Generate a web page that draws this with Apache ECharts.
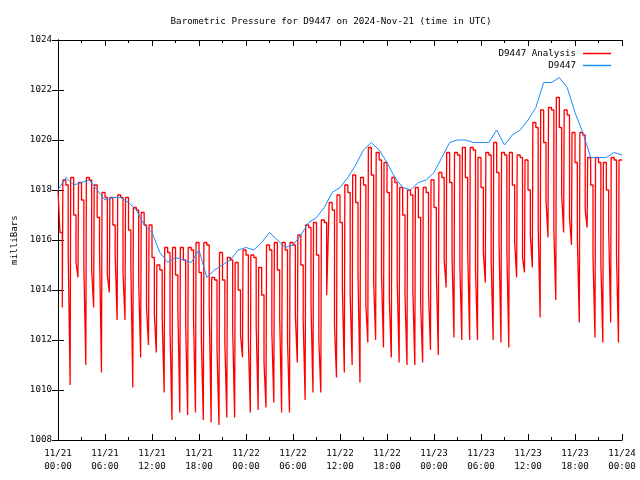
<!DOCTYPE html>
<html><head><meta charset="utf-8">
<script src="https://cdn.jsdelivr.net/npm/echarts@6/dist/echarts.min.js"></script>
<style>html,body{margin:0;padding:0;background:#fff}#c{width:640px;height:480px}</style>
</head><body><div id="c"></div>
<script>
const chartTitle = 'Barometric Pressure for D9447 on 2024-Nov-21 (time in UTC)';
const yAxisName = 'milliBars';
const seriesNames = ['D9447 Analysis', 'D9447'];
const xTickLabels = ['11/21\n00:00','11/21\n06:00','11/21\n12:00','11/21\n18:00','11/22\n00:00','11/22\n06:00','11/22\n12:00','11/22\n18:00','11/23\n00:00','11/23\n06:00','11/23\n12:00','11/23\n18:00','11/24\n00:00'];

// D9447 (blue) hourly readings, hours 0..72 after 11/21 00:00
const blueHours = [0,1,2,3,4,5,6,7,8,9,10,11,12,13,14,15,16,17,18,19,20,21,22,23,24,25,26,27,28,29,30,31,32,33,34,35,36,37,38,39,40,41,42,43,44,45,46,47,48,49,50,51,52,53,54,55,56,57,58,59,60,61,62,63,64,65,66,67,68,69,70,71,72];
const blueValues = [
1018.0,1018.5,1018.2,1018.3,1018.4,1018.0,1017.6,1017.7,1017.7,1017.5,
1017.2,1016.6,1016.3,1015.5,1015.1,1015.3,1015.2,1015.1,1015.6,1014.5,
1014.8,1015.0,1015.2,1015.6,1015.7,1015.6,1015.9,1016.3,1016.0,1015.7,
1015.8,1016.2,1016.7,1016.9,1017.3,1017.9,1018.1,1018.5,1019.0,1019.6,
1019.9,1019.6,1019.1,1018.5,1018.1,1018.0,1018.3,1018.4,1018.7,1019.3,
1019.9,1020.0,1020.0,1019.9,1019.9,1019.9,1020.4,1019.8,1020.2,1020.4,
1020.8,1021.3,1022.3,1022.3,1022.5,1022.1,1021.1,1020.3,1019.3,1019.3,
1019.3,1019.5,1019.4];

// D9447 Analysis (red): readings at 0:00 and 0:15 before the first cycle
const redStart = [1018.0, 1016.3];
// reading times within each hourly cycle (hours after the cycle's hour n)
const redCycleOffsets = [0.55, 0.62, 1.0, 1.3];
// per hour n: low, high, next, before-drop readings
const redLow = [
1013.3,1010.2,1014.5,1011.0,1013.3,1010.7,1013.9,1012.8,1012.8,1010.1,
1011.3,1011.8,1011.5,1009.9,1008.8,1009.1,1009.0,1009.1,1008.8,1008.7,
1008.6,1008.9,1008.9,1011.3,1009.1,1009.2,1009.3,1009.5,1009.1,1009.1,
1011.1,1009.6,1009.9,1009.9,1013.8,1010.5,1010.7,1011.0,1010.3,1011.9,
1012.0,1011.7,1011.3,1011.1,1011.0,1011.0,1011.1,1011.6,1011.4,1014.1,
1012.1,1012.0,1012.0,1012.0,1014.3,1012.0,1011.9,1011.7,1014.5,1014.7,
1014.9,1012.9,1016.1,1013.6,1016.3,1015.8,1012.7,1016.5,1012.1,1011.9,
1012.7,1011.9];
const redHigh = [
1018.4,1018.5,1018.3,1018.5,1018.2,1017.9,1017.7,1017.8,1017.7,1017.3,
1017.1,1016.6,1015.0,1015.7,1015.7,1015.7,1015.7,1015.9,1015.9,1014.5,
1015.5,1015.3,1015.1,1015.6,1015.4,1014.9,1015.8,1015.9,1015.9,1015.9,
1016.2,1016.6,1016.7,1016.8,1017.5,1017.8,1018.2,1018.6,1018.5,1019.7,
1019.5,1019.1,1018.5,1018.1,1018.0,1018.1,1018.1,1018.4,1018.7,1019.5,
1019.5,1019.7,1019.7,1019.3,1019.5,1019.9,1019.5,1019.5,1019.4,1019.2,
1020.7,1021.2,1021.3,1021.7,1021.2,1020.3,1020.3,1019.3,1019.3,1019.1,
1019.3,1019.2];
const redMid1 = [
1018.2,1017.0,1017.6,1018.4,1016.9,1017.7,1016.6,1017.7,1016.4,1017.2,
1016.6,1015.3,1014.8,1015.5,1014.6,1015.2,1015.6,1014.7,1015.8,1014.4,
1014.4,1015.2,1014.0,1015.4,1015.3,1013.8,1015.6,1014.8,1015.6,1015.8,
1015.0,1016.5,1015.4,1016.7,1017.2,1016.7,1017.9,1017.5,1018.2,1018.6,
1019.2,1017.9,1018.3,1017.0,1017.8,1016.9,1017.9,1017.3,1018.5,1018.3,
1019.4,1018.5,1019.6,1018.1,1019.4,1018.7,1019.4,1018.2,1019.3,1018.0,
1020.5,1019.9,1021.2,1020.5,1021.0,1019.1,1020.2,1018.2,1019.1,1018.0,
1019.2,1019.2];
const redMid2 = [
1015.5,1015.1,1015.0,1014.8,1015.6,1014.6,1015.4,1014.7,1015.0,1014.3,
1013.3,1013.0,1012.9,1012.4,1013.3,1012.6,1012.9,1012.0,1013.4,1011.6,
1011.9,1012.4,1012.2,1012.0,1012.6,1011.1,1012.3,1012.9,1012.0,1013.0,
1012.8,1013.4,1012.0,1013.8,1012.6,1014.1,1013.8,1014.6,1013.4,1014.3,
1014.6,1013.6,1014.4,1013.8,1014.0,1013.4,1013.9,1014.7,1015.2,1015.4,
1015.0,1015.6,1014.8,1015.5,1015.2,1016.0,1015.6,1015.9,1015.3,1016.2,
1016.5,1017.6,1016.4,1017.8,1016.9,1016.1,1017.2,1015.3,1015.1,1016.4,
1015.4];

const FONT = 'DejaVu Sans Mono';
// readings in time order
const redPts = [[0, redStart[0]], [0.25, redStart[1]]];
for (let n = 0; n < redLow.length; n++) {
  redPts.push([n + redCycleOffsets[0], redLow[n]], [n + redCycleOffsets[1], redHigh[n]],
              [n + redCycleOffsets[2], redMid1[n]]);
  if (n < redMid2.length) redPts.push([n + redCycleOffsets[3], redMid2[n]]);
}
// step ("hold until next reading") polyline built from the readings
const redData = [];
redPts.forEach((p, i) => {
  if (i > 0) redData.push([p[0], redPts[i - 1][1]]);
  redData.push(p);
});
const blueData = blueHours.map((h, i) => [h, blueValues[i]]);

const chart = echarts.init(document.getElementById('c'), null, {renderer: 'canvas'});
const axisLine = {show: true, lineStyle: {color: '#000', width: 1}};
const tick = {show: true, inside: true, length: 6, lineStyle: {color: '#000'}};
const minorTick = {show: true, splitNumber: 2, length: 3, lineStyle: {color: '#000'}};
chart.setOption({
  animation: false,
  backgroundColor: '#fff',
  title: {text: chartTitle, left: 326, top: 12, textAlign: 'center',
    textStyle: {fontFamily: FONT, fontSize: 9.2, fontWeight: 'normal', color: '#000'}},
  legend: {
    data: [{name: seriesNames[0], icon: 'rect'}, {name: seriesNames[1], icon: 'rect'}],
    orient: 'vertical', align: 'right', right: 24, top: 44,
    itemWidth: 28, itemHeight: 1.5, itemGap: 3,
    textStyle: {fontFamily: FONT, fontSize: 9.2, color: '#000', padding: [0, 2, 0, 0]}
  },
  grid: {left: 58, right: 18, top: 40, bottom: 40},
  xAxis: [{
    type: 'value', min: 0, max: 72, interval: 6,
    axisLine: axisLine, axisTick: tick, minorTick: minorTick,
    splitLine: {show: false},
    axisLabel: {fontFamily: FONT, fontSize: 9.2, color: '#000', lineHeight: 13, margin: 7,
      formatter: v => xTickLabels[Math.round(v / 6)]}
  }, {
    type: 'value', min: 0, max: 72, interval: 6, position: 'top',
    axisLine: axisLine, axisTick: tick, minorTick: minorTick,
    splitLine: {show: false}, axisLabel: {show: false}
  }],
  yAxis: [{
    type: 'value', min: 1008, max: 1024, interval: 2,
    name: yAxisName, nameLocation: 'middle', nameGap: 38, nameRotate: 90,
    nameTextStyle: {fontFamily: FONT, fontSize: 9.2, color: '#000'},
    axisLine: axisLine, axisTick: tick, splitLine: {show: false},
    axisLabel: {fontFamily: FONT, fontSize: 9.2, color: '#000', margin: 6, formatter: v => String(v)}
  }, {
    type: 'value', min: 1008, max: 1024, interval: 2, position: 'right',
    axisLine: axisLine, axisTick: tick, splitLine: {show: false}, axisLabel: {show: false}
  }],
  series: [{
    name: seriesNames[0], type: 'line', data: redData,
    showSymbol: false, symbol: 'none', color: '#ff0000',
    lineStyle: {color: '#ff0000', width: 1.3}, xAxisIndex: 0, yAxisIndex: 0
  }, {
    name: seriesNames[1], type: 'line', data: blueData,
    showSymbol: false, symbol: 'none', color: '#1a8cff',
    lineStyle: {color: '#1a8cff', width: 1}, xAxisIndex: 0, yAxisIndex: 0
  }]
});
</script></body></html>
